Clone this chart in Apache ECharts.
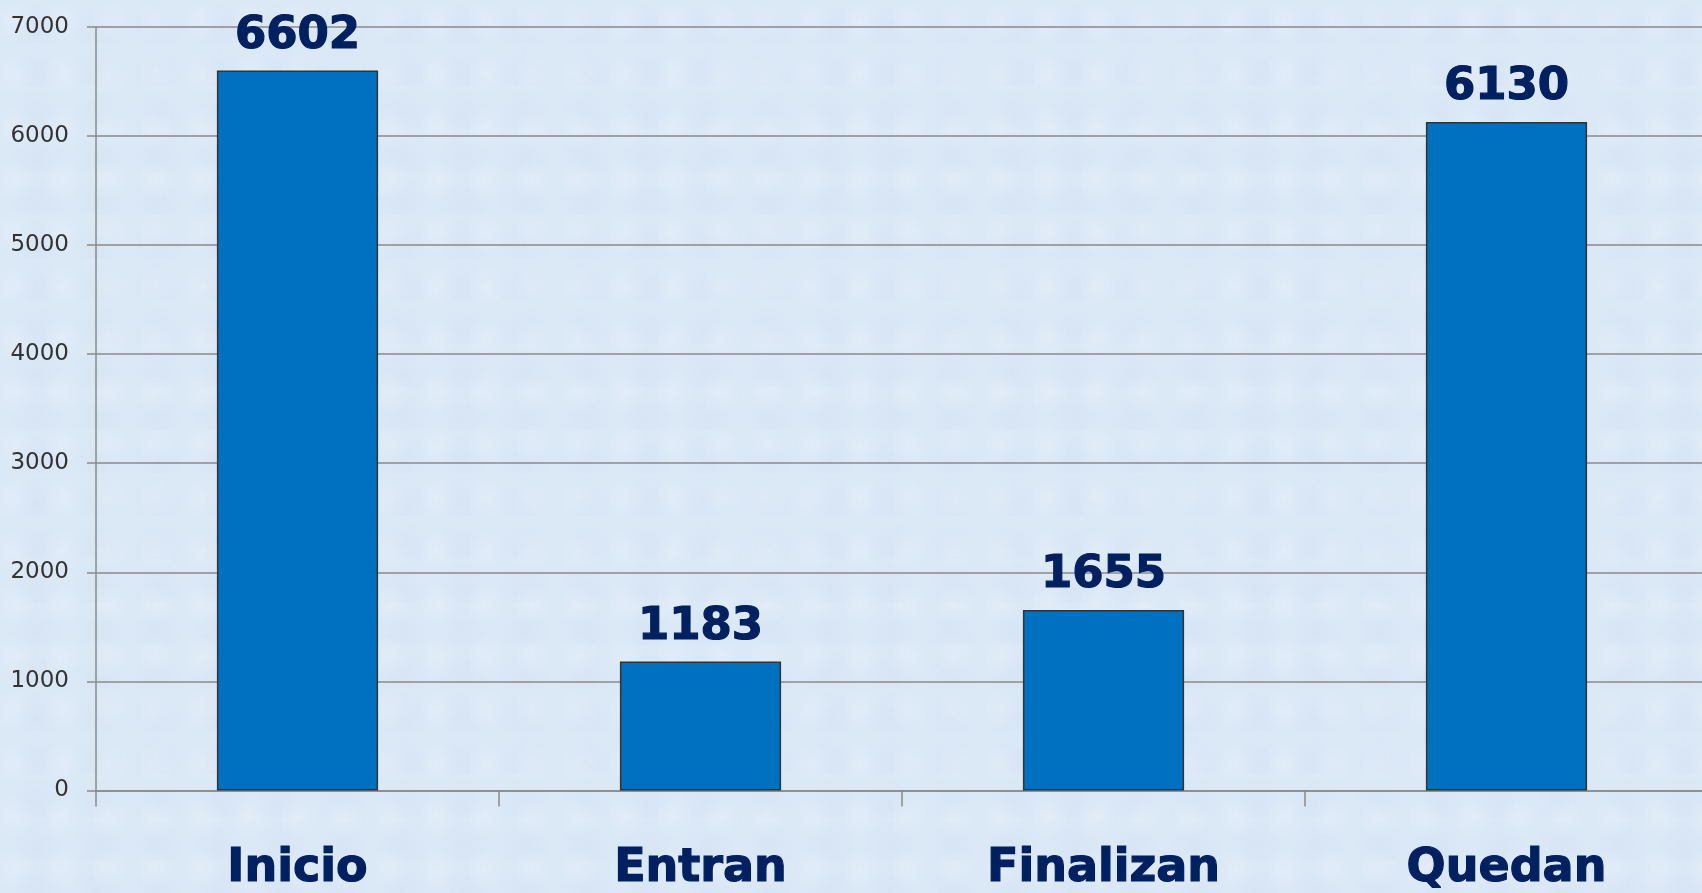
<!DOCTYPE html>
<html>
<head>
<meta charset="utf-8">
<script src="https://cdn.jsdelivr.net/npm/echarts@6/dist/echarts.min.js"></script>
<style>
  html, body { margin: 0; padding: 0; overflow: hidden; background: #dbe8f6; }
  #chart {
    width: 1710px;
    height: 893px;
    background-color: #dbe8f6;
    background-image:
      radial-gradient(circle at 30% 40%, rgba(255,255,255,0.18) 0, rgba(255,255,255,0) 22px),
      radial-gradient(circle at 60% 70%, rgba(200,215,238,0.2) 0, rgba(200,215,238,0) 26px);
    background-size: 47px 53px, 61px 43px;
  }
</style>
</head>
<body>
<div id="chart"></div>
<script>
var categorias = ['Inicio', 'Entran', 'Finalizan', 'Quedan'];
var valores = [6602, 1183, 1655, 6130];
var ejeY = { min: 0, max: 7000, interval: 1000 };

// el eje X se sale un poco por la derecha, como en el original
var chartDom = document.getElementById('chart');
var myChart = echarts.init(chartDom);
var option;
option = {
  animation: false,
  grid: {
    left: 96,
    right: 2,
    top: 27,
    bottom: 102
  },
  xAxis: {
    type: 'category',
    data: categorias,
    axisLine: { lineStyle: { color: '#8a8a8a', width: 1.5 } },
    axisTick: { show: true, length: 16, lineStyle: { color: '#8a8a8a', width: 1.5 } },
    axisLabel: {
      margin: 56,
      fontFamily: 'DejaVu Sans',
      fontWeight: 'bold',
      fontSize: 46,
      color: '#002060',
      textBorderColor: '#002060',
      textBorderWidth: 1.2
    }
  },
  yAxis: {
    type: 'value',
    min: ejeY.min,
    max: ejeY.max,
    interval: ejeY.interval,
    axisLine: { show: true, lineStyle: { color: '#8a8a8a', width: 1.5 } },
    axisTick: { show: true, length: 9, lineStyle: { color: '#8a8a8a', width: 1.5 } },
    axisLabel: {
      margin: 27,
      fontFamily: 'DejaVu Sans',
      fontSize: 23,
      color: '#333333',
      formatter: function (v) { return String(v); }
    },
    splitLine: { show: true, lineStyle: { color: '#8a8a8a', width: 1.5 } }
  },
  series: [
    {
      type: 'bar',
      data: valores,
      barWidth: '40%',
      itemStyle: {
        color: '#0070c0',
        borderColor: '#333333',
        borderWidth: 1.5
      },
      label: {
        show: true,
        position: 'top',
        distance: 12,
        fontFamily: 'DejaVu Sans',
        fontWeight: 'bold',
        fontSize: 45,
        color: '#002060',
        textBorderColor: '#002060',
        textBorderWidth: 1.2
      }
    }
  ]
};
myChart.setOption(option);
</script>
</body>
</html>
